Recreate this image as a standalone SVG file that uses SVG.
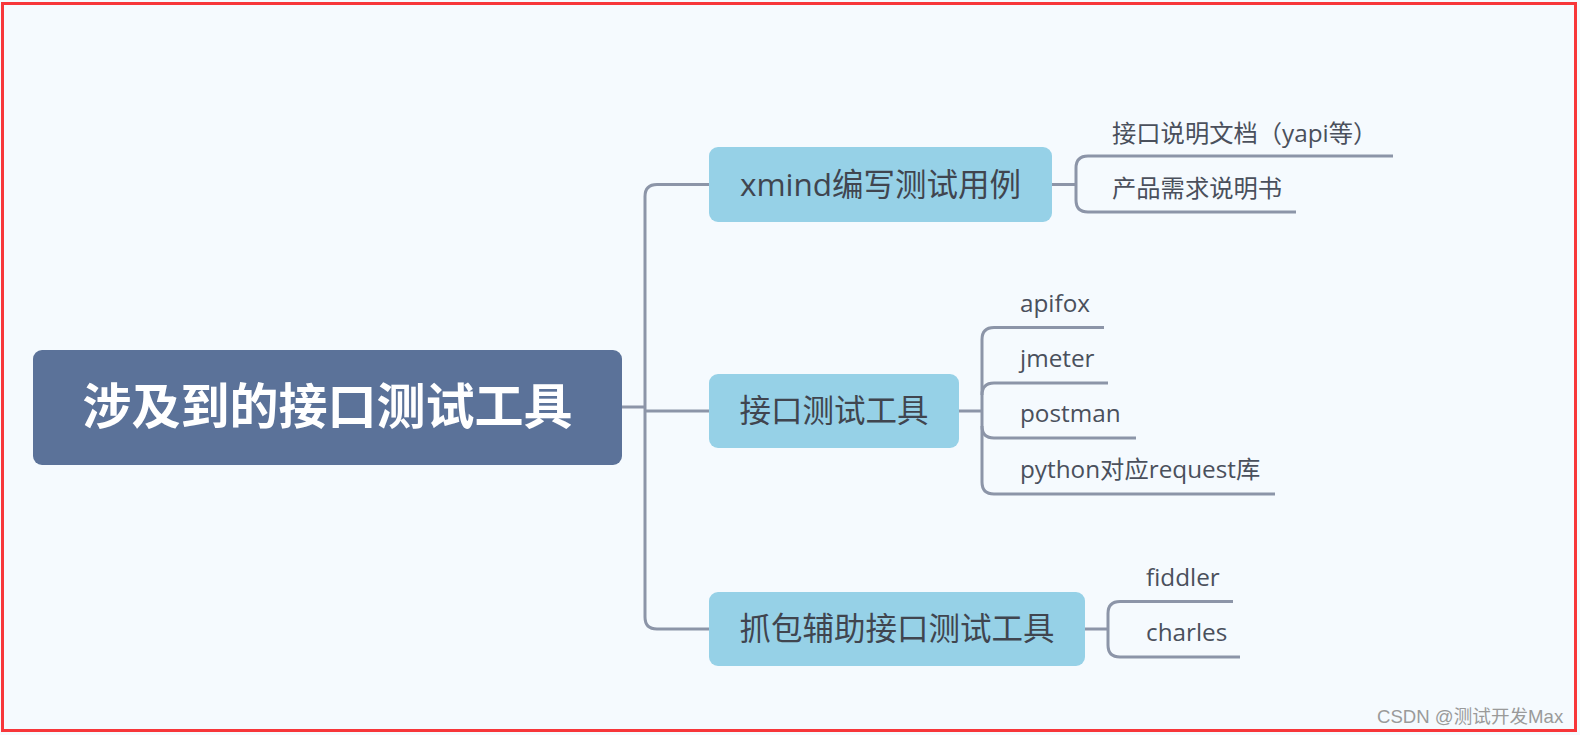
<svg xmlns="http://www.w3.org/2000/svg" width="1580" height="735" viewBox="0 0 1580 735">
<style>
.bg{fill:#f5fafe}
.frame{fill:none;stroke:#f7363a;stroke-width:3}
.root rect{fill:#5b7299}
.root text{fill:#ffffff;font-family:"Noto Sans CJK SC","Noto Sans",sans-serif;font-size:49px;font-weight:700;text-anchor:middle}
.main rect{fill:#96d1e7}
.main text{fill:#40454f;font-family:"Open Sans","Noto Sans CJK SC",sans-serif;font-size:31.5px;text-anchor:middle}
.leaf text{fill:#4a505c;font-family:"Open Sans","Noto Sans CJK SC",sans-serif;font-size:24.3px}
.lines path{fill:none;stroke:#8c95a8;stroke-width:3}
.wm{fill:#9a9a9a;font-family:"Liberation Sans","Noto Sans CJK SC",sans-serif;font-size:18.6px}
</style>
<rect class="bg" x="0" y="0" width="1580" height="735"/>
<rect class="frame" x="2.5" y="3.5" width="1573" height="727"/>
<g id="connectors" class="lines">
<path d="M622,407 H645"/>
<path d="M709,184.5 H657 Q645,184.5 645,196.5 V617 Q645,629 657,629 H709"/>
<path d="M645,411 H709"/>
<path d="M1052,184.5 H1076"/>
<path d="M1393,156 H1088 Q1076,156 1076,168 V200 Q1076,212 1088,212 H1296"/>
<path d="M959,411 H982"/>
<path d="M1104,327.5 H994 Q982,327.5 982,339.5 V482 Q982,494 994,494 H1275"/>
<path d="M982,395 Q982,383 994,383 H1108"/>
<path d="M982,426 Q982,438 994,438 H1136"/>
<path d="M1085,629 H1108"/>
<path d="M1233,601.5 H1120 Q1108,601.5 1108,613.5 V645 Q1108,657 1120,657 H1240"/>
</g>
<g id="root" class="root">
<rect x="33" y="350" width="589" height="115" rx="9"/>
<text x="327.5" y="424">涉及到的接口测试工具</text>
</g>
<g id="n1" class="main">
<rect x="709" y="147" width="343" height="75" rx="9"/>
<text x="880.5" y="196">xmind编写测试用例</text>
</g>
<g id="n2" class="main">
<rect x="709" y="374" width="250" height="74" rx="9"/>
<text x="834" y="422">接口测试工具</text>
</g>
<g id="n3" class="main">
<rect x="709" y="592" width="376" height="74" rx="9"/>
<text x="897" y="640">抓包辅助接口测试工具</text>
</g>
<g id="l1" class="leaf"><text x="1112" y="142">接口说明文档（yapi等）</text></g>
<g id="l2" class="leaf"><text x="1112" y="197">产品需求说明书</text></g>
<g id="l3" class="leaf"><text x="1020" y="312">apifox</text></g>
<g id="l4" class="leaf"><text x="1020" y="367">jmeter</text></g>
<g id="l5" class="leaf"><text x="1020" y="422">postman</text></g>
<g id="l6" class="leaf"><text x="1020" y="478">python对应request库</text></g>
<g id="l7" class="leaf"><text x="1146" y="586">fiddler</text></g>
<g id="l8" class="leaf"><text x="1146" y="641">charles</text></g>
<text class="wm" x="1377" y="723">CSDN @测试开发Max</text>
</svg>
